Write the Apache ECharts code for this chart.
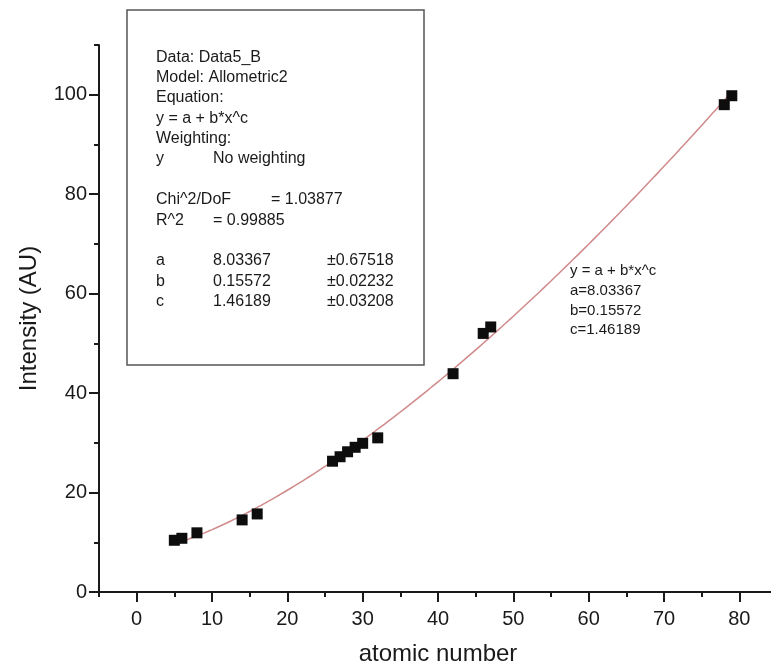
<!DOCTYPE html>
<html>
<head>
<meta charset="utf-8">
<script src="https://cdn.jsdelivr.net/npm/echarts@6/dist/echarts.min.js"></script>
<style>
  html, body { margin: 0; padding: 0; background: #fff; }
  #chart { width: 771px; height: 669px; }
</style>
</head>
<body>
<div id="chart"></div>
<script>
// Measured intensities per element
const atomicNumber = [5, 6, 8, 14, 16, 26, 27, 28, 29, 30, 32, 42, 46, 47, 78, 79];
const intensity = [10.4, 10.8, 11.9, 14.5, 15.7, 26.3, 27.2, 28.2, 29.1, 29.9, 31.0, 43.9, 52.0, 53.3, 98.0, 99.8];

// Allometric2 fit parameters: y = a + b*x^c
const fitA = 8.03367;
const fitB = 0.15572;
const fitC = 1.46189;
const fitRange = [5, 79];

// Axis ticks
const xMajorTicks = [0, 10, 20, 30, 40, 50, 60, 70, 80];
const xMinorTicks = [-5, 5, 15, 25, 35, 45, 55, 65, 75, 85];
const yMajorTicks = [0, 20, 40, 60, 80, 100];
const yMinorTicks = [10, 30, 50, 70, 90, 110];

// Fit report lines
const reportLeft = [
  'Data: Data5_B', 'Model: Allometric2', 'Equation:', 'y = a + b*x^c', 'Weighting:', 'y',
  'Chi^2/DoF', 'R^2', 'a', 'b', 'c'
];
const reportMid = ['No weighting', '= 0.99885', '8.03367', '0.15572', '1.46189'];
const reportRight = ['±0.67518', '±0.02232', '±0.03208'];
const chiValue = '= 1.03877';
const curveLabel = ['y = a + b*x^c', 'a=8.03367', 'b=0.15572', 'c=1.46189'];

const fitCurve = [];
for (let x = fitRange[0]; x <= fitRange[1] + 1e-9; x += 0.5) {
  fitCurve.push([x, fitA + fitB * Math.pow(x, fitC)]);
}

const FONT = '"Liberation Sans", Arial, sans-serif';
const INK = '#1a1a1a';

const chart = echarts.init(document.getElementById('chart'), null, { renderer: 'canvas' });

const baseX = { type: 'value', min: -5, max: 85, gridIndex: 0, position: 'bottom', splitLine: { show: false } };
const baseY = { type: 'value', min: 0, max: 110, gridIndex: 0, position: 'left', splitLine: { show: false } };

function txt(text, x, y, size, align) {
  return {
    type: 'text', x: x, y: y, silent: true,
    style: { text: text, font: size + 'px ' + FONT, fill: INK, verticalAlign: 'middle', align: align || 'left' }
  };
}

const reportY = [58, 78, 98, 119, 139, 159, 200, 221, 261, 282, 302];
const graphics = [{
  type: 'rect', silent: true,
  shape: { x: 127, y: 10, width: 297, height: 355 },
  style: { fill: null, stroke: '#555', lineWidth: 1.5 }
}];
reportLeft.forEach((t, i) => graphics.push(txt(t, 156, reportY[i], 16)));
graphics.push(txt(reportMid[0], 213, reportY[5], 16));
graphics.push(txt(chiValue, 271, reportY[6], 16));
graphics.push(txt(reportMid[1], 213, reportY[7], 16));
for (let i = 0; i < 3; i++) {
  graphics.push(txt(reportMid[i + 2], 213, reportY[8 + i], 16));
  graphics.push(txt(reportRight[i], 327, reportY[8 + i], 16));
}
curveLabel.forEach((t, i) => graphics.push(txt(t, 570, 271 + i * 19.7, 15)));

chart.setOption({
  animation: false,
  backgroundColor: '#fff',
  grid: { left: 99, right: -6, top: 45, bottom: 77, containLabel: false, outerBoundsMode: 'none' },
  xAxis: [
    Object.assign({}, baseX, {
      name: 'atomic number', nameLocation: 'middle', nameGap: 50,
      nameTextStyle: { fontFamily: FONT, fontSize: 24, color: INK },
      axisLine: { show: true, lineStyle: { color: INK, width: 2 } },
      axisTick: { show: true, length: 10, customValues: xMajorTicks, lineStyle: { color: INK, width: 2 } },
      axisLabel: { show: true, margin: 17, customValues: xMajorTicks, fontFamily: FONT, fontSize: 20, color: INK }
    }),
    Object.assign({}, baseX, {
      axisLine: { show: false },
      axisTick: { show: true, length: 5, customValues: xMinorTicks, lineStyle: { color: INK, width: 2 } },
      axisLabel: { show: false }
    })
  ],
  yAxis: [
    Object.assign({}, baseY, {
      name: 'Intensity (AU)', nameLocation: 'middle', nameGap: 58,
      nameTextStyle: { fontFamily: FONT, fontSize: 24, color: INK },
      axisLine: { show: true, onZero: false, lineStyle: { color: INK, width: 2 } },
      axisTick: { show: true, length: 10, customValues: yMajorTicks, lineStyle: { color: INK, width: 2 } },
      axisLabel: { show: true, margin: 12, customValues: yMajorTicks, fontFamily: FONT, fontSize: 20, color: INK }
    }),
    Object.assign({}, baseY, {
      axisLine: { show: false, onZero: false },
      axisTick: { show: true, length: 5, customValues: yMinorTicks, lineStyle: { color: INK, width: 2 } },
      axisLabel: { show: false }
    })
  ],
  series: [
    {
      type: 'line', xAxisIndex: 0, yAxisIndex: 0, data: fitCurve,
      symbol: 'none', smooth: false, z: 2,
      lineStyle: { color: '#d08a8a', width: 1.5 }
    },
    {
      type: 'scatter', xAxisIndex: 0, yAxisIndex: 0,
      data: atomicNumber.map((x, i) => [x, intensity[i]]),
      symbol: 'rect', symbolSize: 11, z: 3,
      itemStyle: { color: '#0d0d0d', opacity: 1 }
    }
  ],
  graphic: graphics
});
</script>
</body>
</html>
